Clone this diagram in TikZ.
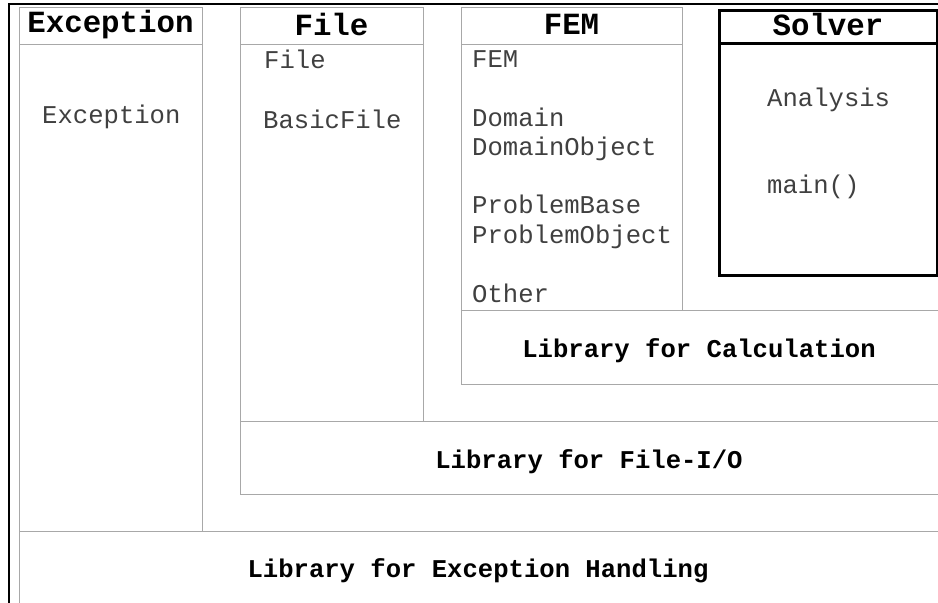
\documentclass[tikz,border=0pt]{standalone}
\usepackage{fontspec}
\setmonofont{Liberation Mono}
\definecolor{linegray}{HTML}{A8A8A8}
\definecolor{txtgray}{HTML}{404040}
\begin{document}
\begin{tikzpicture}[x=1pt,y=-1pt,
  pkgbox/.style={draw=linegray, line width=1pt, rectangle, inner sep=0pt, anchor=north west},
  solverbox/.style={draw=black, line width=3pt, rectangle, inner sep=0pt, anchor=north west},
  headtxt/.style={font=\ttfamily\bfseries\fontsize{30.8}{34}\selectfont, anchor=base, inner sep=0pt},
  itemtxt/.style={font=\ttfamily\fontsize{25.6}{30}\selectfont, text=txtgray, anchor=base west, inner sep=0pt},
  libtxt/.style={font=\ttfamily\bfseries\fontsize{25.6}{30}\selectfont, anchor=base, inner sep=0pt}]
\fill[white] (0,0) rectangle (938,603);
\begin{scope}
\clip (0,0) rectangle (938,603);
% outer frame
\coordinate (oTL) at (9,4);
\coordinate (oBL) at (9,620);
\coordinate (oTR) at (960,4);
\draw[black, line width=1.2pt] (oBL) -- (oTL) -- (oTR);
% package boxes
\node[pkgbox, minimum width=183pt, minimum height=524pt] (exc) at (19,7) {};
\node[pkgbox, minimum width=960pt, minimum height=120pt] (excLib) at (19,531) {};
\node[pkgbox, minimum width=183pt, minimum height=414pt] (file) at (240,7) {};
\node[pkgbox, minimum width=760pt, minimum height=73pt] (fileLib) at (240,421) {};
\node[pkgbox, minimum width=221pt, minimum height=303pt] (fem) at (461,7) {};
\node[pkgbox, minimum width=540pt, minimum height=74pt] (calcLib) at (461,310) {};
\node[solverbox, minimum width=218pt, minimum height=265pt] (solver) at (718,9) {};
% header separators
\coordinate (excH1) at (19,44); \coordinate (excH2) at (202,44);
\coordinate (fileH1) at (240,44); \coordinate (fileH2) at (423,44);
\coordinate (femH1) at (461,44); \coordinate (femH2) at (682,44);
\coordinate (solH1) at (718,43); \coordinate (solH2) at (936,43);
\draw[linegray, line width=1pt] (excH1) -- (excH2);
\draw[linegray, line width=1pt] (fileH1) -- (fileH2);
\draw[linegray, line width=1pt] (femH1) -- (femH2);
\draw[black, line width=3pt] (solH1) -- (solH2);
\end{scope}
% headers
\node[headtxt] (tExc) at (110.5,32) {Exception};
\node[headtxt] (tFile) at (331.5,35) {File};
\node[headtxt] (tFem) at (571.5,34) {FEM};
\node[headtxt] (tSolver) at (828,35) {Solver};
% items
\node[itemtxt] (iExc) at (42,123) {Exception};
\node[itemtxt] (iFile) at (264,68) {File};
\node[itemtxt] (iBasic) at (263,128) {BasicFile};
\node[itemtxt] (iFem) at (472,67) {FEM};
\node[itemtxt] (iDom) at (472,126) {Domain};
\node[itemtxt] (iDomObj) at (472,155) {DomainObject};
\node[itemtxt] (iPB) at (472,213) {ProblemBase};
\node[itemtxt] (iPO) at (472,243) {ProblemObject};
\node[itemtxt] (iOther) at (472,302) {Other};
\node[itemtxt] (iAna) at (767,106) {Analysis};
\node[itemtxt] (iMain) at (767,193) {main()};
% library labels
\node[libtxt] (lCalc) at (699,357) {Library for Calculation};
\node[libtxt] (lFile) at (589,468) {Library for File-I/O};
\node[libtxt] (lExc) at (478,577) {Library for Exception Handling};
\pgfresetboundingbox
\path[use as bounding box] (0,0) rectangle (938,603);
\end{tikzpicture}
\end{document}
